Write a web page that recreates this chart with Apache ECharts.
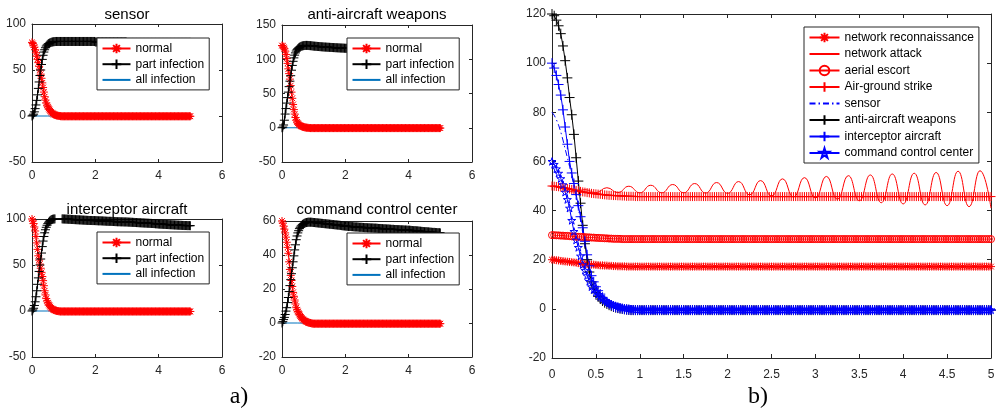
<!DOCTYPE html>
<html>
<head>
<meta charset="utf-8">
<script src="https://cdn.jsdelivr.net/npm/echarts@6/dist/echarts.min.js"></script>
<style>
html, body { margin: 0; padding: 0; background: #fff; }
#main { width: 999px; height: 409px; }
</style>
</head>
<body>
<div id="main"></div>
<script>
// time grid (s), one row per 0.5 s
var t = [
  0, 0.025, 0.05, 0.075, 0.1, 0.125, 0.15, 0.175, 0.2, 0.225, 0.25, 0.275, 0.3, 0.325, 0.35, 0.375, 0.4, 0.425, 0.45, 0.475,
  0.5, 0.525, 0.55, 0.575, 0.6, 0.625, 0.65, 0.675, 0.7, 0.725, 0.75, 0.775, 0.8, 0.825, 0.85, 0.875, 0.9, 0.925, 0.95, 0.975,
  1, 1.025, 1.05, 1.075, 1.1, 1.125, 1.15, 1.175, 1.2, 1.225, 1.25, 1.275, 1.3, 1.325, 1.35, 1.375, 1.4, 1.425, 1.45, 1.475,
  1.5, 1.525, 1.55, 1.575, 1.6, 1.625, 1.65, 1.675, 1.7, 1.725, 1.75, 1.775, 1.8, 1.825, 1.85, 1.875, 1.9, 1.925, 1.95, 1.975,
  2, 2.025, 2.05, 2.075, 2.1, 2.125, 2.15, 2.175, 2.2, 2.225, 2.25, 2.275, 2.3, 2.325, 2.35, 2.375, 2.4, 2.425, 2.45, 2.475,
  2.5, 2.525, 2.55, 2.575, 2.6, 2.625, 2.65, 2.675, 2.7, 2.725, 2.75, 2.775, 2.8, 2.825, 2.85, 2.875, 2.9, 2.925, 2.95, 2.975,
  3, 3.025, 3.05, 3.075, 3.1, 3.125, 3.15, 3.175, 3.2, 3.225, 3.25, 3.275, 3.3, 3.325, 3.35, 3.375, 3.4, 3.425, 3.45, 3.475,
  3.5, 3.525, 3.55, 3.575, 3.6, 3.625, 3.65, 3.675, 3.7, 3.725, 3.75, 3.775, 3.8, 3.825, 3.85, 3.875, 3.9, 3.925, 3.95, 3.975,
  4, 4.025, 4.05, 4.075, 4.1, 4.125, 4.15, 4.175, 4.2, 4.225, 4.25, 4.275, 4.3, 4.325, 4.35, 4.375, 4.4, 4.425, 4.45, 4.475,
  4.5, 4.525, 4.55, 4.575, 4.6, 4.625, 4.65, 4.675, 4.7, 4.725, 4.75, 4.775, 4.8, 4.825, 4.85, 4.875, 4.9, 4.925, 4.95, 4.975,
  5
];

// "normal" nodes of each type (also the last four curves of b)
var sensorNormal = [
  80, 78.8, 77, 74.8, 72, 68.7, 65, 61.6, 58, 54, 50, 45.5, 41, 36, 31, 26, 21, 17.3, 14, 11.8,
  10, 8.4, 7, 5.7, 4.5, 3.6, 2.8, 2.1, 1.6, 1.2, 0.9, 0.6, 0.4, 0.2, 0.1, 0, -0.2, -0.25, -0.3, -0.3,
  -0.3, -0.3, -0.3, -0.3, -0.3, -0.3, -0.3, -0.3, -0.3, -0.3, -0.3, -0.3, -0.3, -0.3, -0.3, -0.3, -0.3, -0.3, -0.3, -0.3,
  -0.3, -0.3, -0.3, -0.3, -0.3, -0.3, -0.3, -0.3, -0.3, -0.3, -0.3, -0.3, -0.3, -0.3, -0.3, -0.3, -0.3, -0.3, -0.3, -0.3,
  -0.3, -0.3, -0.3, -0.3, -0.3, -0.3, -0.3, -0.3, -0.3, -0.3, -0.3, -0.3, -0.3, -0.3, -0.3, -0.3, -0.3, -0.3, -0.3, -0.3,
  -0.3, -0.3, -0.3, -0.3, -0.3, -0.3, -0.3, -0.3, -0.3, -0.3, -0.3, -0.3, -0.3, -0.3, -0.3, -0.3, -0.3, -0.3, -0.3, -0.3,
  -0.3, -0.3, -0.3, -0.3, -0.3, -0.3, -0.3, -0.3, -0.3, -0.3, -0.3, -0.3, -0.3, -0.3, -0.3, -0.3, -0.3, -0.3, -0.3, -0.3,
  -0.3, -0.3, -0.3, -0.3, -0.3, -0.3, -0.3, -0.3, -0.3, -0.3, -0.3, -0.3, -0.3, -0.3, -0.3, -0.3, -0.3, -0.3, -0.3, -0.3,
  -0.3, -0.3, -0.3, -0.3, -0.3, -0.3, -0.3, -0.3, -0.3, -0.3, -0.3, -0.3, -0.3, -0.3, -0.3, -0.3, -0.3, -0.3, -0.3, -0.3,
  -0.3, -0.3, -0.3, -0.3, -0.3, -0.3, -0.3, -0.3, -0.3, -0.3, -0.3, -0.3, -0.3, -0.3, -0.3, -0.3, -0.3, -0.3, -0.3, -0.3,
  -0.3
];
var antiNormal = [
  120, 119.3, 117.5, 115.2, 112, 107, 101, 94, 86, 79, 71, 61.5, 52, 43, 34, 26.5, 20, 15, 11, 8.5,
  6.5, 5.1, 4, 3.2, 2.5, 2, 1.5, 1.1, 0.8, 0.5, 0.3, 0.1, 0, -0.15, -0.3, -0.4, -0.5, -0.5, -0.5, -0.5,
  -0.5, -0.5, -0.5, -0.5, -0.5, -0.5, -0.5, -0.5, -0.5, -0.5, -0.5, -0.5, -0.5, -0.5, -0.5, -0.5, -0.5, -0.5, -0.5, -0.5,
  -0.5, -0.5, -0.5, -0.5, -0.5, -0.5, -0.5, -0.5, -0.5, -0.5, -0.5, -0.5, -0.5, -0.5, -0.5, -0.5, -0.5, -0.5, -0.5, -0.5,
  -0.5, -0.5, -0.5, -0.5, -0.5, -0.5, -0.5, -0.5, -0.5, -0.5, -0.5, -0.5, -0.5, -0.5, -0.5, -0.5, -0.5, -0.5, -0.5, -0.5,
  -0.5, -0.5, -0.5, -0.5, -0.5, -0.5, -0.5, -0.5, -0.5, -0.5, -0.5, -0.5, -0.5, -0.5, -0.5, -0.5, -0.5, -0.5, -0.5, -0.5,
  -0.5, -0.5, -0.5, -0.5, -0.5, -0.5, -0.5, -0.5, -0.5, -0.5, -0.5, -0.5, -0.5, -0.5, -0.5, -0.5, -0.5, -0.5, -0.5, -0.5,
  -0.5, -0.5, -0.5, -0.5, -0.5, -0.5, -0.5, -0.5, -0.5, -0.5, -0.5, -0.5, -0.5, -0.5, -0.5, -0.5, -0.5, -0.5, -0.5, -0.5,
  -0.5, -0.5, -0.5, -0.5, -0.5, -0.5, -0.5, -0.5, -0.5, -0.5, -0.5, -0.5, -0.5, -0.5, -0.5, -0.5, -0.5, -0.5, -0.5, -0.5,
  -0.5, -0.5, -0.5, -0.5, -0.5, -0.5, -0.5, -0.5, -0.5, -0.5, -0.5, -0.5, -0.5, -0.5, -0.5, -0.5, -0.5, -0.5, -0.5, -0.5,
  -0.5
];
var interNormal = [
  100, 98, 95, 91.3, 87, 81, 74, 67, 60, 55.3, 51, 46.5, 42, 37.5, 33, 27.5, 22, 17.5, 13.5, 11,
  9, 7.4, 6, 4.7, 3.5, 2.7, 2, 1.5, 1, 0.7, 0.4, 0.2, 0, -0.15, -0.3, -0.4, -0.5, -0.5, -0.5, -0.5,
  -0.5, -0.5, -0.5, -0.5, -0.5, -0.5, -0.5, -0.5, -0.5, -0.5, -0.5, -0.5, -0.5, -0.5, -0.5, -0.5, -0.5, -0.5, -0.5, -0.5,
  -0.5, -0.5, -0.5, -0.5, -0.5, -0.5, -0.5, -0.5, -0.5, -0.5, -0.5, -0.5, -0.5, -0.5, -0.5, -0.5, -0.5, -0.5, -0.5, -0.5,
  -0.5, -0.5, -0.5, -0.5, -0.5, -0.5, -0.5, -0.5, -0.5, -0.5, -0.5, -0.5, -0.5, -0.5, -0.5, -0.5, -0.5, -0.5, -0.5, -0.5,
  -0.5, -0.5, -0.5, -0.5, -0.5, -0.5, -0.5, -0.5, -0.5, -0.5, -0.5, -0.5, -0.5, -0.5, -0.5, -0.5, -0.5, -0.5, -0.5, -0.5,
  -0.5, -0.5, -0.5, -0.5, -0.5, -0.5, -0.5, -0.5, -0.5, -0.5, -0.5, -0.5, -0.5, -0.5, -0.5, -0.5, -0.5, -0.5, -0.5, -0.5,
  -0.5, -0.5, -0.5, -0.5, -0.5, -0.5, -0.5, -0.5, -0.5, -0.5, -0.5, -0.5, -0.5, -0.5, -0.5, -0.5, -0.5, -0.5, -0.5, -0.5,
  -0.5, -0.5, -0.5, -0.5, -0.5, -0.5, -0.5, -0.5, -0.5, -0.5, -0.5, -0.5, -0.5, -0.5, -0.5, -0.5, -0.5, -0.5, -0.5, -0.5,
  -0.5, -0.5, -0.5, -0.5, -0.5, -0.5, -0.5, -0.5, -0.5, -0.5, -0.5, -0.5, -0.5, -0.5, -0.5, -0.5, -0.5, -0.5, -0.5, -0.5,
  -0.5
];
var cmdNormal = [
  60, 58.8, 57, 55.2, 53, 50.5, 47.5, 44.5, 41, 36, 31.5, 28, 25, 21.5, 18, 15.7, 13.5, 11.2, 9, 7.8,
  6.8, 5.9, 5, 4.2, 3.5, 2.9, 2.4, 2, 1.6, 1.3, 1, 0.7, 0.5, 0.3, 0.2, 0.1, 0, -0.15, -0.3, -0.35,
  -0.4, -0.4, -0.4, -0.4, -0.4, -0.4, -0.4, -0.4, -0.4, -0.4, -0.4, -0.4, -0.4, -0.4, -0.4, -0.4, -0.4, -0.4, -0.4, -0.4,
  -0.4, -0.4, -0.4, -0.4, -0.4, -0.4, -0.4, -0.4, -0.4, -0.4, -0.4, -0.4, -0.4, -0.4, -0.4, -0.4, -0.4, -0.4, -0.4, -0.4,
  -0.4, -0.4, -0.4, -0.4, -0.4, -0.4, -0.4, -0.4, -0.4, -0.4, -0.4, -0.4, -0.4, -0.4, -0.4, -0.4, -0.4, -0.4, -0.4, -0.4,
  -0.4, -0.4, -0.4, -0.4, -0.4, -0.4, -0.4, -0.4, -0.4, -0.4, -0.4, -0.4, -0.4, -0.4, -0.4, -0.4, -0.4, -0.4, -0.4, -0.4,
  -0.4, -0.4, -0.4, -0.4, -0.4, -0.4, -0.4, -0.4, -0.4, -0.4, -0.4, -0.4, -0.4, -0.4, -0.4, -0.4, -0.4, -0.4, -0.4, -0.4,
  -0.4, -0.4, -0.4, -0.4, -0.4, -0.4, -0.4, -0.4, -0.4, -0.4, -0.4, -0.4, -0.4, -0.4, -0.4, -0.4, -0.4, -0.4, -0.4, -0.4,
  -0.4, -0.4, -0.4, -0.4, -0.4, -0.4, -0.4, -0.4, -0.4, -0.4, -0.4, -0.4, -0.4, -0.4, -0.4, -0.4, -0.4, -0.4, -0.4, -0.4,
  -0.4, -0.4, -0.4, -0.4, -0.4, -0.4, -0.4, -0.4, -0.4, -0.4, -0.4, -0.4, -0.4, -0.4, -0.4, -0.4, -0.4, -0.4, -0.4, -0.4,
  -0.4
];

// "part infection" nodes
var sensorPart = [
  0, 0.8, 2, 4.5, 8, 12, 17, 23, 30, 37, 44, 50, 56, 61.5, 66, 69.5, 72, 74.2, 76, 77.1,
  78, 78.7, 79.2, 79.6, 80, 80.3, 80.5, 80.7, 80.8, 80.9, 81, 81, 81, 81, 81, 81, 81, 81, 81, 81,
  81, 81, 81, 81, 81, 81, 81, 81, 81, 81, 81, 81, 81, 81, 81, 81, 81, 81, 81, 81,
  81, 81, 81, 81, 81, 81, 81, 81, 81, 81, 81, 81, 81, 81, 81, 81, 81, 81, 81, 81,
  80.5, 80.5, 80.5, 80.5, 80.5, 80.5, 80.5, 80.5, 80.5, 80.5, 80.5, 80.5, 80.5, 80.5, 80.5, 80.5, 80.5, 80.5, 80.5, 80.5,
  80.5, 80.5, 80.5, 80.5, 80.5, 80.5, 80.5, 80.5, 80.5, 80.5, 80.5, 80.5, 80.5, 80.5, 80.5, 80.5, 80.5, 80.5, 80.5, 80.5,
  80, 80, 80, 80, 80, 80, 80, 80, 80, 80, 80, 80, 80, 80, 80, 80, 80, 80, 80, 80,
  80, 80, 80, 80, 80, 80, 80, 80, 80, 80, 80, 80, 80, 80, 80, 80, 80, 80, 80, 80,
  80, 80, 80, 80, 80, 80, 80, 80, 80, 80, 80, 80, 80, 80, 80, 80, 80, 80, 80, 80,
  80, 80, 80, 80, 80, 80, 80, 80, 80, 80, 80, 80, 80, 80, 80, 80, 80, 80, 80, 80,
  80
];
var antiPart = [
  0, 1, 4, 11, 20, 28, 36, 44, 52, 60, 68, 76, 84, 91, 97, 102, 106, 109.3, 112, 114,
  115.5, 116.6, 117.5, 118.2, 118.8, 119.2, 119.5, 119.8, 120, 120.1, 120.2, 120.2, 120.2, 120.1, 120, 119.9, 119.8, 119.7, 119.5, 119.4,
  119.2, 119.1, 119, 118.9, 118.8, 118.7, 118.6, 118.5, 118.4, 118.3, 118.2, 118.1, 118, 117.9, 117.8, 117.8, 117.7, 117.6, 117.5, 117.5,
  117.4, 117.3, 117.2, 117.2, 117.1, 117, 117, 116.9, 116.8, 116.8, 116.7, 116.6, 116.6, 116.5, 116.4, 116.4, 116.3, 116.3, 116.2, 116.1,
  116, 116, 116, 116, 116, 116, 116, 116, 116, 116, 115.5, 115.5, 115.5, 115.5, 115.5, 115.5, 115.5, 115.5, 115.5, 115.5,
  115, 115, 115, 115, 115, 115, 115, 115, 115, 115, 114.5, 114.5, 114.5, 114.5, 114.5, 114.5, 114.5, 114.5, 114.5, 114.5,
  114, 114, 114, 114, 114, 114, 114, 114, 114, 114, 113.5, 113.5, 113.5, 113.5, 113.5, 113.5, 113.5, 113.5, 113.5, 113.5,
  113, 113, 113, 113, 113, 113, 113, 113, 113, 113, 112.5, 112.5, 112.5, 112.5, 112.5, 112.5, 112.5, 112.5, 112.5, 112.5,
  112, 112, 112, 112, 112, 112, 112, 112, 112, 112, 111.5, 111.5, 111.5, 111.5, 111.5, 111.5, 111.5, 111.5, 111.5, 111.5,
  111, 111, 111, 111, 111, 111, 111, 111, 111, 111, 110.5, 110.5, 110.5, 110.5, 110.5, 110.5, 110.5, 110.5, 110.5, 110.5,
  110
];
var interPart = [
  0, 1.2, 3, 6, 10, 15.5, 22, 29, 36, 43, 50, 56.5, 63, 70, 76, 81, 85, 88.3, 91, 93.2,
  95, 96.4, 97.5, 98.3, 99, 99.4, 99.7, 99.9, 100, 100.1, 100.2, 100.3, 100.3, 100.3, 100.3, 100.3, 100.2, 100.2, 100.1, 100.1,
  100, 100, 99.9, 99.9, 99.8, 99.8, 99.7, 99.7, 99.6, 99.6, 99.5, 99.5, 99.4, 99.4, 99.3, 99.3, 99.2, 99.2, 99.1, 99.1,
  99, 99, 98.9, 98.9, 98.8, 98.8, 98.7, 98.7, 98.6, 98.6, 98.5, 98.5, 98.4, 98.4, 98.4, 98.4, 98.3, 98.3, 98.3, 98.3,
  98.2, 98.2, 98.1, 98.1, 98, 98, 98, 98, 97.9, 97.9, 97.8, 97.8, 97.7, 97.7, 97.6, 97.6, 97.5, 97.5, 97.5, 97.5,
  97.4, 97.4, 97.3, 97.3, 97.2, 97.2, 97.1, 97.1, 97, 97, 97, 97, 96.9, 96.9, 96.9, 96.9, 96.8, 96.8, 96.8, 96.8,
  96.7, 96.7, 96.6, 96.6, 96.5, 96.5, 96.4, 96.4, 96.3, 96.3, 96.2, 96.2, 96.1, 96.1, 96, 96, 95.9, 95.9, 95.8, 95.8,
  95.7, 95.7, 95.6, 95.6, 95.5, 95.5, 95.4, 95.4, 95.3, 95.3, 95.2, 95.2, 95.1, 95.1, 95, 95, 94.8, 94.8, 94.7, 94.7,
  94.5, 94.5, 94.4, 94.4, 94.3, 94.3, 94.2, 94.2, 94.1, 94.1, 94, 94, 93.9, 93.9, 93.8, 93.8, 93.7, 93.7, 93.6, 93.6,
  93.5, 93.5, 93.4, 93.4, 93.3, 93.3, 93.2, 93.2, 93.1, 93.1, 93, 93, 92.9, 92.9, 92.9, 92.9, 92.8, 92.8, 92.8, 92.8,
  92.7
];
var cmdPart = [
  0, 0.8, 2, 3.3, 5, 7, 9, 12, 15, 18.5, 22, 25.5, 29, 32.5, 36, 39.5, 43, 46, 49, 51.2,
  53, 54.3, 55.5, 56.3, 57, 57.5, 58, 58.3, 58.6, 58.8, 59, 59.1, 59.2, 59.3, 59.3, 59.3, 59.3, 59.3, 59.2, 59.2,
  59.1, 59.1, 59, 59, 58.9, 58.9, 58.8, 58.8, 58.7, 58.7, 58.6, 58.6, 58.5, 58.5, 58.4, 58.4, 58.3, 58.3, 58.2, 58.2,
  58.1, 58.1, 58, 58, 57.9, 57.9, 57.8, 57.8, 57.7, 57.7, 57.6, 57.6, 57.5, 57.5, 57.4, 57.3, 57.2, 57.2, 57.1, 57.1,
  57, 57, 56.9, 56.9, 56.8, 56.8, 56.8, 56.8, 56.7, 56.7, 56.6, 56.6, 56.5, 56.5, 56.5, 56.5, 56.4, 56.4, 56.3, 56.3,
  56.3, 56.3, 56.2, 56.2, 56.1, 56.1, 56.1, 56.1, 56, 56, 56, 56, 55.9, 55.9, 55.9, 55.9, 55.8, 55.8, 55.8, 55.8,
  55.7, 55.7, 55.6, 55.6, 55.6, 55.6, 55.5, 55.5, 55.4, 55.4, 55.4, 55.4, 55.3, 55.3, 55.3, 55.3, 55.2, 55.2, 55.1, 55.1,
  55.1, 55.1, 55, 55, 55, 55, 54.9, 54.9, 54.9, 54.9, 54.8, 54.8, 54.8, 54.8, 54.7, 54.7, 54.7, 54.7, 54.6, 54.6,
  54.6, 54.6, 54.5, 54.5, 54.4, 54.4, 54.3, 54.3, 54.3, 54.3, 54.2, 54.2, 54.1, 54.1, 54, 54, 53.9, 53.9, 53.8, 53.8,
  53.7, 53.7, 53.7, 53.7, 53.6, 53.6, 53.5, 53.5, 53.4, 53.4, 53.3, 53.3, 53.3, 53.3, 53.2, 53.2, 53.1, 53.1, 53.1, 53.1,
  53
];

// "all infection" nodes (plain lines)
var allT = [0, 0.5, 1, 2, 3, 4, 5];
var sensorAll = [0, 0, -0.2, -0.4, -0.6, -0.8, -1];
var antiAll = [0, 0, -0.3, -0.6, -0.9, -1.2, -1.5];
var interAll = [0, 0, -0.2, -0.4, -0.6, -0.8, -1];
var cmdAll = [0, 0, -0.2, -0.5, -0.7, -1, -1.2];

// b) red curves
var recon = [
  20, 19.9, 19.8, 19.7, 19.5, 19.4, 19.3, 19.2, 19.1, 19, 18.9, 18.8, 18.6, 18.5, 18.4, 18.3, 18.2, 18.1, 18, 18,
  17.9, 17.8, 17.7, 17.7, 17.6, 17.6, 17.5, 17.5, 17.4, 17.4, 17.3, 17.3, 17.3, 17.3, 17.2, 17.2, 17.2, 17.2, 17.2, 17.2,
  17.2, 17.2, 17.2, 17.2, 17.2, 17.2, 17.2, 17.2, 17.2, 17.2, 17.2, 17.2, 17.2, 17.2, 17.2, 17.2, 17.2, 17.2, 17.2, 17.2,
  17.2, 17.2, 17.2, 17.2, 17.2, 17.2, 17.2, 17.2, 17.2, 17.2, 17.2, 17.2, 17.2, 17.2, 17.2, 17.2, 17.2, 17.2, 17.2, 17.2,
  17.2, 17.2, 17.2, 17.2, 17.2, 17.2, 17.2, 17.2, 17.2, 17.2, 17.2, 17.2, 17.2, 17.2, 17.2, 17.2, 17.2, 17.2, 17.2, 17.2,
  17.2, 17.2, 17.2, 17.2, 17.2, 17.2, 17.2, 17.2, 17.2, 17.2, 17.2, 17.2, 17.2, 17.2, 17.2, 17.2, 17.2, 17.2, 17.2, 17.2,
  17.2, 17.2, 17.2, 17.2, 17.2, 17.2, 17.2, 17.2, 17.2, 17.2, 17.2, 17.2, 17.2, 17.2, 17.2, 17.2, 17.2, 17.2, 17.2, 17.2,
  17.2, 17.2, 17.2, 17.2, 17.2, 17.2, 17.2, 17.2, 17.2, 17.2, 17.2, 17.2, 17.2, 17.2, 17.2, 17.2, 17.2, 17.2, 17.2, 17.2,
  17.2, 17.2, 17.2, 17.2, 17.2, 17.2, 17.2, 17.2, 17.2, 17.2, 17.2, 17.2, 17.2, 17.2, 17.2, 17.2, 17.2, 17.2, 17.2, 17.2,
  17.2, 17.2, 17.2, 17.2, 17.2, 17.2, 17.2, 17.2, 17.2, 17.2, 17.2, 17.2, 17.2, 17.2, 17.2, 17.2, 17.2, 17.2, 17.2, 17.2,
  17.2
];
var escort = [
  30, 30, 29.9, 29.9, 29.8, 29.8, 29.7, 29.7, 29.6, 29.5, 29.4, 29.4, 29.3, 29.3, 29.2, 29.2, 29.1, 29.1, 29, 29,
  28.9, 28.9, 28.8, 28.8, 28.7, 28.7, 28.6, 28.6, 28.5, 28.5, 28.5, 28.5, 28.4, 28.4, 28.4, 28.4, 28.4, 28.4, 28.4, 28.4,
  28.4, 28.4, 28.4, 28.4, 28.4, 28.4, 28.4, 28.4, 28.4, 28.4, 28.4, 28.4, 28.4, 28.4, 28.4, 28.4, 28.4, 28.4, 28.4, 28.4,
  28.4, 28.4, 28.4, 28.4, 28.4, 28.4, 28.4, 28.4, 28.4, 28.4, 28.4, 28.4, 28.4, 28.4, 28.4, 28.4, 28.4, 28.4, 28.4, 28.4,
  28.4, 28.4, 28.4, 28.4, 28.4, 28.4, 28.4, 28.4, 28.4, 28.4, 28.4, 28.4, 28.4, 28.4, 28.4, 28.4, 28.4, 28.4, 28.4, 28.4,
  28.4, 28.4, 28.4, 28.4, 28.4, 28.4, 28.4, 28.4, 28.4, 28.4, 28.4, 28.4, 28.4, 28.4, 28.4, 28.4, 28.4, 28.4, 28.4, 28.4,
  28.4, 28.4, 28.4, 28.4, 28.4, 28.4, 28.4, 28.4, 28.4, 28.4, 28.4, 28.4, 28.4, 28.4, 28.4, 28.4, 28.4, 28.4, 28.4, 28.4,
  28.4, 28.4, 28.4, 28.4, 28.4, 28.4, 28.4, 28.4, 28.4, 28.4, 28.4, 28.4, 28.4, 28.4, 28.4, 28.4, 28.4, 28.4, 28.4, 28.4,
  28.4, 28.4, 28.4, 28.4, 28.4, 28.4, 28.4, 28.4, 28.4, 28.4, 28.4, 28.4, 28.4, 28.4, 28.4, 28.4, 28.4, 28.4, 28.4, 28.4,
  28.4, 28.4, 28.4, 28.4, 28.4, 28.4, 28.4, 28.4, 28.4, 28.4, 28.4, 28.4, 28.4, 28.4, 28.4, 28.4, 28.4, 28.4, 28.4, 28.4,
  28.4
];
var strike = [
  50, 49.9, 49.8, 49.7, 49.5, 49.4, 49.2, 49, 48.8, 48.6, 48.4, 48.2, 48, 47.8, 47.6, 47.5, 47.3, 47.2, 47, 46.9,
  46.8, 46.7, 46.6, 46.5, 46.4, 46.3, 46.2, 46.2, 46.1, 46.1, 46, 46, 45.9, 45.9, 45.8, 45.8, 45.8, 45.8, 45.7, 45.7,
  45.7, 45.7, 45.7, 45.7, 45.7, 45.7, 45.7, 45.7, 45.7, 45.7, 45.7, 45.7, 45.7, 45.7, 45.7, 45.7, 45.7, 45.7, 45.7, 45.7,
  45.7, 45.7, 45.7, 45.7, 45.7, 45.7, 45.7, 45.7, 45.7, 45.7, 45.7, 45.7, 45.7, 45.7, 45.7, 45.7, 45.7, 45.7, 45.7, 45.7,
  45.7, 45.7, 45.7, 45.7, 45.7, 45.7, 45.7, 45.7, 45.7, 45.7, 45.7, 45.7, 45.7, 45.7, 45.7, 45.7, 45.7, 45.7, 45.7, 45.7,
  45.7, 45.7, 45.7, 45.7, 45.7, 45.7, 45.7, 45.7, 45.7, 45.7, 45.7, 45.7, 45.7, 45.7, 45.7, 45.7, 45.7, 45.7, 45.7, 45.7,
  45.7, 45.7, 45.7, 45.7, 45.7, 45.7, 45.7, 45.7, 45.7, 45.7, 45.7, 45.7, 45.7, 45.7, 45.7, 45.7, 45.7, 45.7, 45.7, 45.7,
  45.7, 45.7, 45.7, 45.7, 45.7, 45.7, 45.7, 45.7, 45.7, 45.7, 45.7, 45.7, 45.7, 45.7, 45.7, 45.7, 45.7, 45.7, 45.7, 45.7,
  45.7, 45.7, 45.7, 45.7, 45.7, 45.7, 45.7, 45.7, 45.7, 45.7, 45.7, 45.7, 45.7, 45.7, 45.7, 45.7, 45.7, 45.7, 45.7, 45.7,
  45.7, 45.7, 45.7, 45.7, 45.7, 45.7, 45.7, 45.7, 45.7, 45.7, 45.7, 45.7, 45.7, 45.7, 45.7, 45.7, 45.7, 45.7, 45.7, 45.7,
  45.7
];
// network attack: peaks / troughs of the oscillation
var attackT = [0, 0.125, 0.25, 0.375, 0.5, 0.625, 0.75, 0.875, 1, 1.125, 1.25, 1.375, 1.5, 1.625, 1.75, 1.875, 2, 2.125, 2.25, 2.375, 2.5,
  2.625, 2.75, 2.875, 3, 3.125, 3.25, 3.375, 3.5, 3.625, 3.75, 3.875, 4, 4.125, 4.25, 4.375, 4.5, 4.625, 4.75, 4.875, 5];
var attack = [50, 48.8, 47.6, 48.5, 47.3, 49.3, 47.3, 49.9, 47.2, 50.3, 47.2, 50.6, 47.2, 51, 47.1, 51.4, 47, 51.8, 46.4, 52.2, 45.9,
  52.9, 45.5, 53.4, 45.1, 53.9, 44.6, 54.2, 44, 54.5, 43.2, 54.9, 42.7, 55.2, 42.3, 55.5, 42, 56, 41.6, 56.2, 41];

var subTitles = ['sensor', 'anti-aircraft weapons', 'interceptor aircraft', 'command control center'];
var smallNames = ['normal', 'part infection', 'all infection'];
var bigNames = ['network reconnaissance', 'network attack', 'aerial escort', 'Air-ground strike',
  'sensor', 'anti-aircraft weapons', 'interceptor aircraft', 'command control center'];

var FONT = '"Liberation Sans", Arial, sans-serif';
var SERIF = '"Liberation Serif", "Times New Roman", serif';
var AX = '#262626';
var RED = '#ff0000', BLK = '#000000', BLU = '#0000ff', MBLU = '#0072bd';
var PLUS = 'path://M5,0L5,10M0,5L10,5';
var ASTER = 'path://M5,0L5,10M0,5L10,5M1.46,1.46L8.54,8.54M8.54,1.46L1.46,8.54';
var STAR = 'path://M5,0L6.12,3.45L9.76,3.45L6.82,5.59L7.94,9.05L5,6.91L2.06,9.05L3.18,5.59L0.24,3.45L3.88,3.45Z';

var grids = [
  {left: 32, top: 24, width: 190, height: 138},
  {left: 282, top: 25, width: 190, height: 137},
  {left: 32, top: 219, width: 190, height: 138},
  {left: 282, top: 221, width: 190, height: 136},
  {left: 552, top: 14, width: 439, height: 344}
];
var xRanges = [[0, 6, 2], [0, 6, 2], [0, 6, 2], [0, 6, 2], [0, 5, 0.5]];
var yRanges = [[-50, 100, 50], [-50, 150, 50], [-50, 100, 50], [-20, 60, 20], [-20, 120, 20]];

var xAxes = [], yAxes = [];
grids.forEach(function (g, i) {
  g.outerBoundsMode = 'none';
  var tick = i === 4 ? 4 : 3;
  [true, false].forEach(function (main) {
    xAxes.push({
      type: 'value', gridIndex: i, position: main ? 'bottom' : 'top',
      min: xRanges[i][0], max: xRanges[i][1], interval: xRanges[i][2],
      axisLine: {onZero: false, lineStyle: {color: AX, width: 1}},
      axisTick: {show: true, inside: true, length: tick, lineStyle: {color: AX, width: 1}},
      axisLabel: {show: main, color: AX, fontSize: 12, fontFamily: FONT, margin: i === 4 ? 11 : 8},
      splitLine: {show: false}
    });
    yAxes.push({
      type: 'value', gridIndex: i, position: main ? 'left' : 'right',
      min: yRanges[i][0], max: yRanges[i][1], interval: yRanges[i][2],
      axisLine: {onZero: false, lineStyle: {color: AX, width: 1}},
      axisTick: {show: true, inside: true, length: tick, lineStyle: {color: AX, width: 1}},
      axisLabel: {show: main, color: AX, fontSize: 12, fontFamily: FONT, margin: 6},
      splitLine: {show: false}
    });
  });
});

function pairs(xs, ys) {
  return xs.map(function (x, i) { return [x, ys[i]]; });
}

function line(name, g, xs, ys, color, symbol, size, dash) {
  return {
    name: name, type: 'line', xAxisIndex: 2 * g, yAxisIndex: 2 * g,
    data: pairs(xs, ys),
    symbol: symbol || 'none', symbolSize: size || 0,
    showSymbol: !!symbol, showAllSymbol: true, symbolKeepAspect: true,
    itemStyle: symbol ? {color: 'rgba(0,0,0,0)', borderColor: color, borderWidth: 1}
                      : {color: 'rgba(0,0,0,0)', borderWidth: 0},
    lineStyle: {color: color, width: 1, type: dash || 'solid'},
    emphasis: {disabled: true}, silent: true
  };
}

var series = [];
var groups = [
  [sensorNormal, sensorPart, sensorAll],
  [antiNormal, antiPart, antiAll],
  [interNormal, interPart, interAll],
  [cmdNormal, cmdPart, cmdAll]
];
groups.forEach(function (d, g) {
  series.push(line('normal', g, t, d[0], RED, ASTER, 8));
  series.push(line('part infection', g, t, d[1], BLK, PLUS, 9));
  series.push(line('all infection', g, allT, d[2], MBLU));
});

series.push(line('network reconnaissance', 4, t, recon, RED, ASTER, 8));
var att = line('network attack', 4, attackT, attack, RED);
att.smooth = 0.5;
series.push(att);
series.push(line('aerial escort', 4, t, escort, RED, 'circle', 7));
series.push(line('Air-ground strike', 4, t, strike, RED, PLUS, 9));
series.push(line('sensor', 4, t, sensorNormal, BLU, null, 0, [6, 3, 1.5, 3]));
series.push(line('anti-aircraft weapons', 4, t, antiNormal, BLK, PLUS, 10));
series.push(line('interceptor aircraft', 4, t, interNormal, BLU, PLUS, 10));
series.push(line('command control center', 4, t, cmdNormal, BLU, STAR, 8));

function legend(names, left, top, iw, gap) {
  return {
    orient: 'vertical', left: left, top: top, data: names,
    itemWidth: iw, itemHeight: 12, itemGap: gap,
    padding: [4.5, 5, 4, 4.5],
    backgroundColor: '#ffffff', borderColor: AX, borderWidth: 1, borderRadius: 0,
    itemStyle: {color: 'rgba(0,0,0,0)'},
    textStyle: {color: '#000', fontSize: 12, fontFamily: FONT},
    selectedMode: false
  };
}

function label(text, x, y, size, family) {
  return {
    type: 'text', x: x, y: y, silent: true,
    style: {
      text: text, fill: '#000', fontSize: size, fontFamily: family,
      align: 'center', verticalAlign: 'middle',
      textAlign: 'center', textVerticalAlign: 'middle'
    }
  };
}

var chart = echarts.init(document.getElementById('main'));
chart.setOption({
  animation: false,
  backgroundColor: '#ffffff',
  grid: grids,
  xAxis: xAxes,
  yAxis: yAxes,
  legend: [
    legend(smallNames, 97, 38, 28, 3.7),
    legend(smallNames, 347, 38, 28, 3.7),
    legend(smallNames, 97, 232, 28, 3.7),
    legend(smallNames, 347, 233, 28, 3.7),
    legend(bigNames, 804, 27, 30, 4.5)
  ],
  graphic: [
    label(subTitles[0], 127, 15, 15, FONT),
    label(subTitles[1], 377, 15, 15, FONT),
    label(subTitles[2], 127, 209.5, 15, FONT),
    label(subTitles[3], 377, 209.5, 15, FONT),
    label('a)', 239, 396.5, 24, SERIF),
    label('b)', 758, 396.5, 24, SERIF)
  ],
  series: series
});
</script>
</body>
</html>
